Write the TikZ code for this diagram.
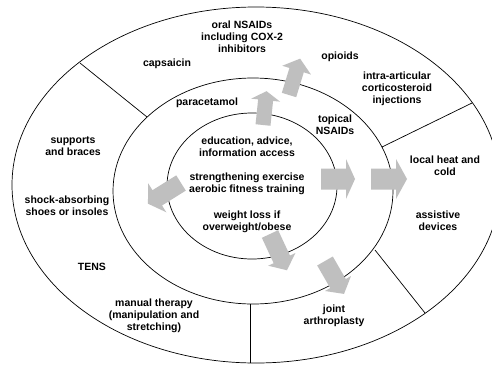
\documentclass[tikz,border=0pt]{standalone}
\usepackage{fontspec}
\setmainfont{Liberation Sans}
\newcommand\garr[7]{\fill[garrow, shift={(#1,#2)}, rotate=#3] (0,-#5) -- ({#4-#7},-#5) -- ({#4-#7},-#6) -- (#4,0) -- ({#4-#7},#6) -- ({#4-#7},#5) -- (0,#5) -- cycle;}
\begin{document}
\begin{tikzpicture}[x=1pt,y=-1pt,
  ring/.style={draw=black, line width=0.7pt},
  divider/.style={draw=black, line width=0.7pt},
  garrow/.style={fill=black!25, draw=none},
  lbl/.style={align=center, font=\fontsize{10.5}{12}\selectfont\bfseries, inner sep=0pt}]
\useasboundingbox (0,0) rectangle (492,364);
\fill[white] (0,0) rectangle (492,364);
\coordinate (co) at (256,185);
\coordinate (cm) at (253,191);
\coordinate (ci) at (252,186);
\draw[ring] (co) ellipse [x radius=244, y radius=178];
\draw[ring] (cm) ellipse [x radius=140, y radius=113];
\draw[ring] (ci) ellipse [x radius=85, y radius=73];
% dividers
\coordinate (d1o) at (80,63);   \coordinate (d1i) at (147,117);
\coordinate (d2o) at (472,103); \coordinate (d2i) at (382,147);
\coordinate (d3o) at (425,313); \coordinate (d3i) at (375,250);
\coordinate (d4o) at (250,363); \coordinate (d4i) at (250,304);
\draw[divider] (d1o) -- (d1i);
\draw[divider] (d2o) -- (d2i);
\draw[divider] (d3o) -- (d3i);
\draw[divider] (d4o) -- (d4i);
% block arrows: tail x, tail y, angle, length, body half, head half, head length
\garr{263}{125}{84}{34}{7.5}{14.5}{9}
\garr{289}{95}{73}{38}{7.5}{15}{12}
\garr{321}{179}{0}{34}{10.5}{20}{9}
\garr{371}{179}{0}{36}{10.5}{20}{11}
\garr{181}{183}{212}{39}{9}{17}{11}
\garr{270}{234}{-65}{40}{9}{15}{12}
\garr{325}{261}{-60}{38}{9}{15}{12}
% labels
\node[lbl] (nsaid) at (242,37) {oral NSAIDs\\including COX-2\\inhibitors};
\node[lbl] (caps) at (167,64) {capsaicin};
\node[lbl] (opi) at (340,57) {opioids};
\node[lbl] (intra) at (397,89) {intra-articular\\corticosteroid\\injections};
\node[lbl] (para) at (207,103) {paracetamol};
\node[lbl] (topi) at (335,125) {topical\\NSAIDs};
\node[lbl] (edu) at (247,147) {education, advice,\\information access};
\node[lbl] (str) at (247,184) {strengthening exercise\\aerobic fitness training};
\node[lbl] (wl) at (247,222) {weight loss if\\overweight/obese};
\node[lbl] (heat) at (445,166) {local heat and\\cold};
\node[lbl] (sup) at (73,146) {supports\\and braces};
\node[lbl] (shoe) at (67,206) {shock-absorbing\\shoes or insoles};
\node[lbl] (assi) at (438,221) {assistive\\devices};
\node[lbl] (tens) at (92,267) {TENS};
\node[lbl] (man) at (154,316) {manual therapy\\(manipulation and\\stretching)};
\node[lbl] (joint) at (334,316) {joint\\arthroplasty};
\end{tikzpicture}
\end{document}
